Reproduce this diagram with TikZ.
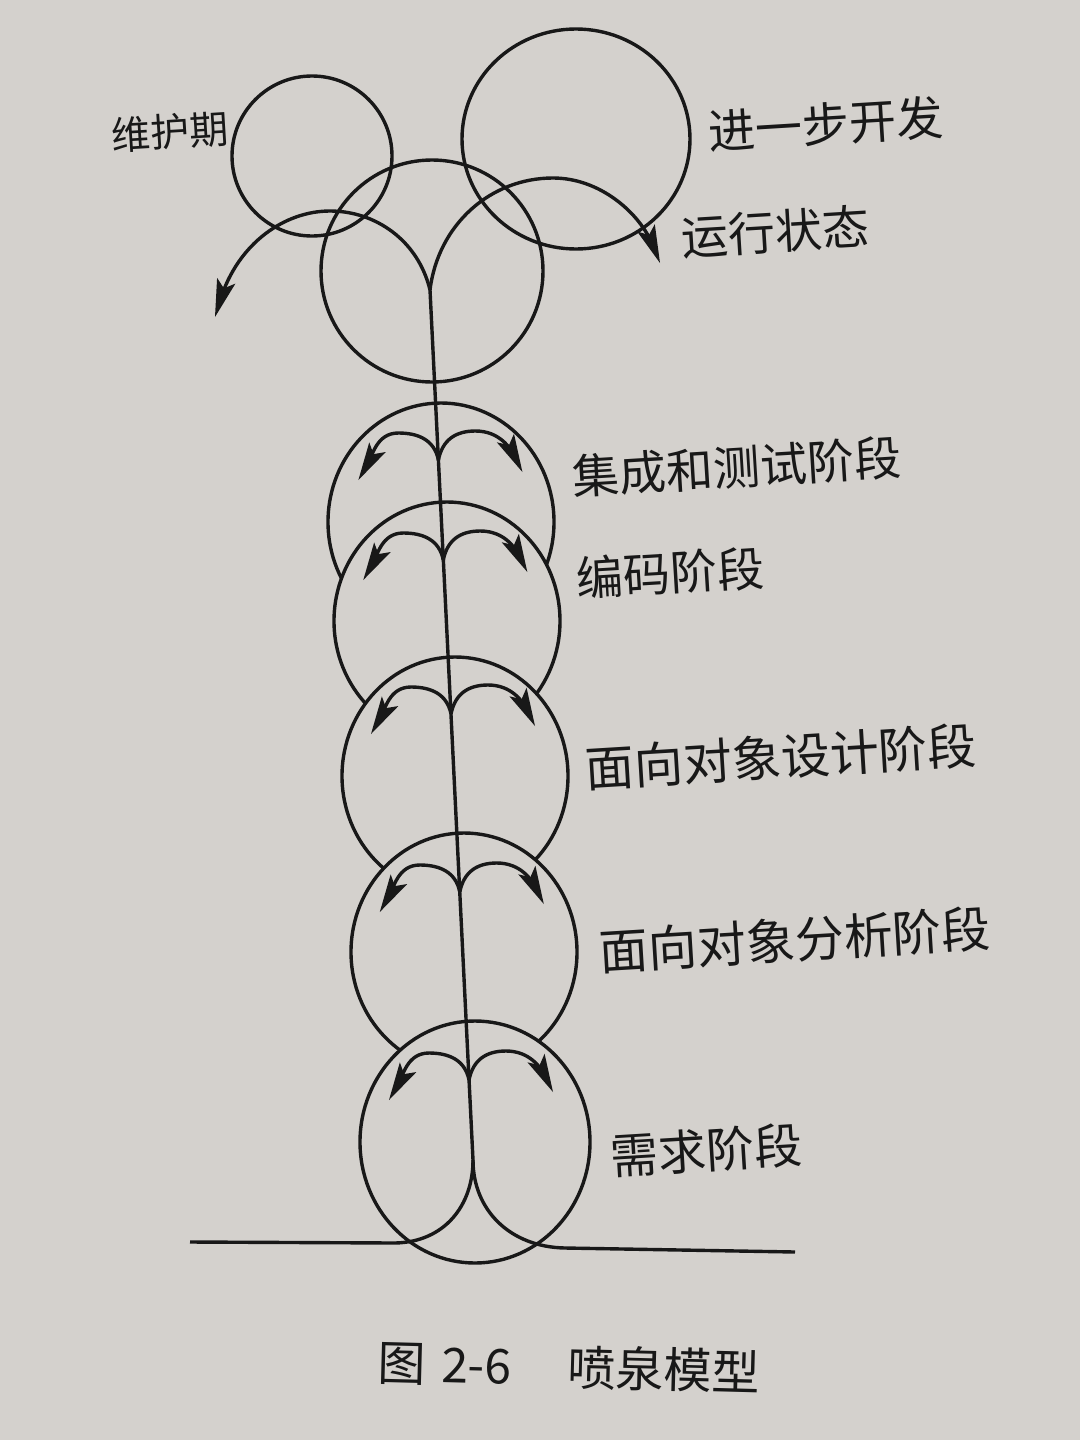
\documentclass[tikz,border=0pt]{standalone}
\usepackage{fontspec}
\newfontfamily\cjk{Noto Sans CJK SC}
\usetikzlibrary{shapes.geometric,calc}
\definecolor{paper}{RGB}{212,209,205}
\definecolor{ink}{RGB}{24,24,24}
% filled arrowhead: #1 tip, #2 a point behind it on the tangent
\newcommand\ahead[2]{%
  \fill ($(#1)!19pt!(#2)$) coordinate (hb) ($(#1)!15pt!(#2)$) coordinate (hn)
    (#1) -- ($(hb)!4.8pt!90:(#1)$) -- (hn) -- ($(hb)!4.8pt!-90:(#1)$) -- cycle;
}
\newcommand\forkarrows[2]{%
  \coordinate (#1) at (#2);
  \path (#1) ++(-40,-27) coordinate (#1lt) ++(-40,47) coordinate (#1lp) ++(14,-24) coordinate (#1lc);
  \path (#1) ++(37,-29) coordinate (#1rt) ++(47,41) coordinate (#1rp) ++(-12,-24) coordinate (#1rc);
  \draw[stagearrow] (#1) .. controls +(-4,-20) and +(20,0) .. (#1lt) .. controls +(-22,0) and (#1lc) .. (#1lp);
  \draw[stagearrow] (#1) .. controls +(4,-20) and +(-20,0) .. (#1rt) .. controls +(24,0) and (#1rc) .. (#1rp);
  \ahead{#1lp}{#1lc}
  \ahead{#1rp}{#1rc}
}
\begin{document}
\begin{tikzpicture}[x=0.5pt,y=-0.5pt,color=ink,line width=1.7pt,
  ring/.style={circle,draw,inner sep=0pt},
  oval/.style={ellipse,draw,inner sep=0pt},
  stageell/.style={ellipse,draw,fill=paper,inner sep=0pt,minimum width=113pt,minimum height=119pt},
  lab/.style={font=\cjk\fontsize{23.5pt}{24pt}\selectfont,inner sep=0pt,rotate=3.5},
  stagearrow/.style={shorten >=9pt},
  bigarrow/.style={shorten >=9pt}]
\fill[paper] (0,0) rectangle (1080,1440);
\useasboundingbox (0,0) rectangle (1080,1440);

% top circles
\node[ring,minimum size=80pt] (maint) at (312,156) {};
\node[oval,minimum width=114pt,minimum height=110pt] (dev) at (576,139) {};
\node[ring,minimum size=111pt] (topc) at (432,271) {};

% stage ellipses (each covers the lower part of the one above)
\node[stageell] (s1) at (441,522) {};
\node[stageell] (s2) at (447,621) {};
\node[stageell] (s3) at (455,776) {};
\node[stageell] (s4) at (464,952) {};
\node[stageell,minimum width=115pt,minimum height=121pt] (s5) at (475,1142) {};

% spine
\coordinate (f0) at (430,290);
\coordinate (split) at (473,1160);
\draw (f0) -- (split);

% arrows inside stages
\forkarrows{f1}{438.4,460}
\forkarrows{f2}{443.3,560}
\forkarrows{f3}{451,714}
\forkarrows{f4}{459.8,892}
\forkarrows{f5}{469,1080}

% top arrows
\coordinate (ltop) at (330,211);
\coordinate (ltip) at (215,317);
\coordinate (ltc) at (238,243);
\coordinate (rtop) at (553,178);
\coordinate (rtip) at (660,263);
\coordinate (rtc) at (640,213);
\draw[bigarrow] (f0) .. controls (418,240) and (375,211) .. (ltop) .. controls (285,211) and (ltc) .. (ltip);
\draw[bigarrow] (f0) .. controls (438,225) and (490,178) .. (rtop) .. controls (600,178) and (rtc) .. (rtip);
\ahead{ltip}{ltc}
\ahead{rtip}{rtc}

% bottom branches and ground line
\coordinate (lb) at (395,1243);
\coordinate (rb) at (565,1248);
\coordinate (gl) at (190,1242);
\coordinate (gr) at (795,1252);
\draw (split) .. controls (473,1205) and (445,1242) .. (lb) -- (gl);
\draw (split) .. controls (473,1210) and (510,1247) .. (rb) -- (gr);

% labels
\node[lab,font=\cjk\fontsize{19.5pt}{20pt}\selectfont] (tmaint) at (170,132) {维护期};
\node[lab] (tdev) at (826,124) {进一步开发};
\node[lab] (trun) at (775,232) {运行状态};
\node[lab] (t1) at (737,467) {集成和测试阶段};
\node[lab] (t2) at (670,573) {编码阶段};
\node[lab,font=\cjk\fontsize{24.5pt}{25pt}\selectfont] (t3) at (781,757) {面向对象设计阶段};
\node[lab,font=\cjk\fontsize{24.5pt}{25pt}\selectfont] (t4) at (795,940) {面向对象分析阶段};
\node[lab,font=\cjk\fontsize{24pt}{25pt}\selectfont] (t5) at (706,1150) {需求阶段};
\node[font=\cjk\fontsize{24pt}{25pt}\selectfont,inner sep=0pt,anchor=west,rotate=-1.5] (cap) at (376,1362) {图\hspace{8pt}2-6\hspace{28pt}喷泉模型};
\end{tikzpicture}
\end{document}
